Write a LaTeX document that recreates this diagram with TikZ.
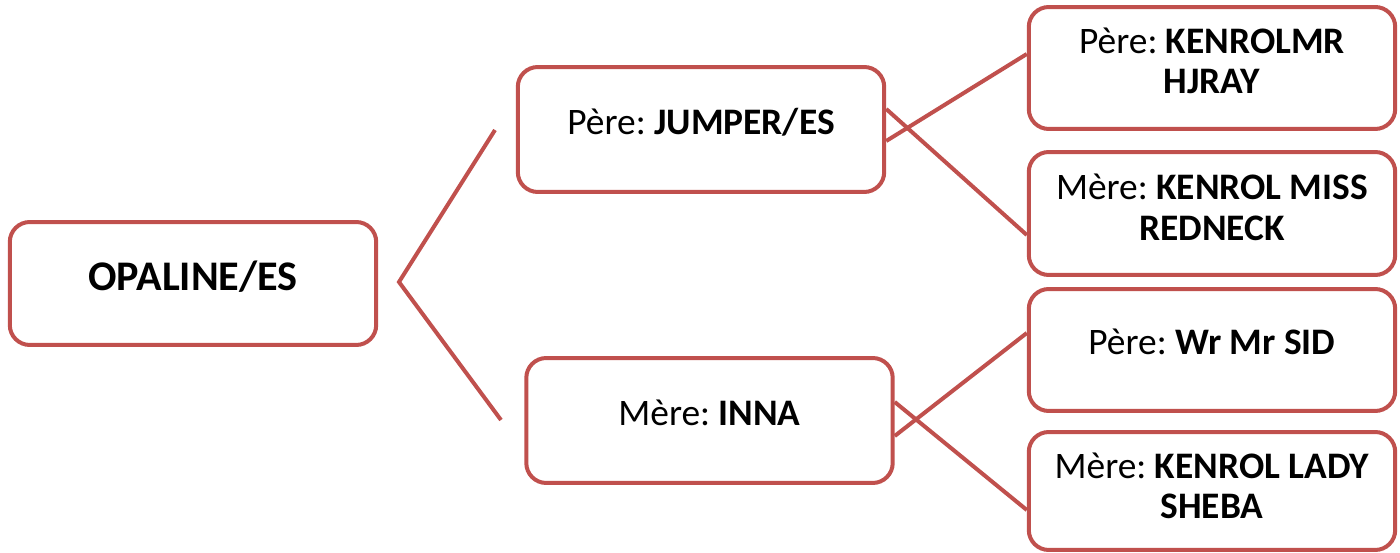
\documentclass[tikz,border=0pt]{standalone}
\usepackage{fontspec}
\setmainfont{Carlito}
\usetikzlibrary{calc}
\definecolor{boxred}{HTML}{C0504D}
\frenchspacing
\begin{document}
\begin{tikzpicture}[x=0.02cm,y=-0.02cm,
		box/.style={draw=boxred,line width=0.08cm,rounded corners=0.4cm,fill=white,inner sep=0pt,minimum width=7.33cm},
		boxtext/.style={font=\fontsize{21.3}{23}\selectfont,align=center,inner sep=0pt},
		link/.style={draw=boxred,line width=0.08cm}]
	\useasboundingbox (0,0) rectangle (1400,553);
	% les boites
	\node[box,minimum height=2.46cm] (root) at (193,283.5) {};
	\node[box,minimum height=2.5cm] (jumper) at (701,129.5) {};
	\node[box,minimum height=2.5cm] (inna) at (709.5,420.5) {};
	\node[box,minimum height=2.44cm] (kenrolmr) at (1212,68) {};
	\node[box,minimum height=2.46cm] (redneck) at (1212,213.5) {};
	\node[box,minimum height=2.44cm] (sid) at (1212,350) {};
	\node[box,minimum height=2.36cm] (sheba) at (1212,491) {};
	% les textes
	\node[boxtext,font=\fontsize{24}{26}\selectfont] (root-t) at ($(root)+(0,-7)$) {\textbf{OPALINE/ES}};
	\node[boxtext] (jumper-t) at ($(jumper)+(0,-7)$) {Père: \textbf{JUMPER/ES}};
	\node[boxtext] (inna-t) at ($(inna)+(0,-8)$) {Mère: \textbf{INNA}};
	\node[boxtext] (kenrolmr-t) at ($(kenrolmr)+(0,-7)$) {Père: \textbf{KENROLMR}\\\textbf{HJRAY}};
	\node[boxtext] (redneck-t) at ($(redneck)+(0,-6)$) {Mère: \textbf{KENROL MISS}\\\textbf{REDNECK}};
	\node[boxtext] (sid-t) at ($(sid)+(0,-8)$) {Père: \textbf{Wr Mr SID}};
	\node[boxtext] (sheba-t) at ($(sheba)+(0,-5)$) {Mère: \textbf{KENROL LADY}\\\textbf{SHEBA}};
	% les liens
	\coordinate (fork) at (399,282);
	\coordinate (fork-up) at (495,130);
	\coordinate (fork-down) at (501,420);
	\draw[link] (fork-up) -- (fork) -- (fork-down);
	\draw[link] ($(jumper.east)+(0,11.5)$) -- ($(kenrolmr.west)+(0,-14)$);
	\draw[link] ($(jumper.east)+(0,-20.5)$) -- ($(redneck.west)+(0,21.5)$);
	\draw[link] ($(inna.east)+(0,15.5)$) -- ($(sid.west)+(0,-17)$);
	\draw[link] ($(inna.east)+(0,-18.5)$) -- ($(sheba.west)+(0,19)$);
\end{tikzpicture}
\end{document}
